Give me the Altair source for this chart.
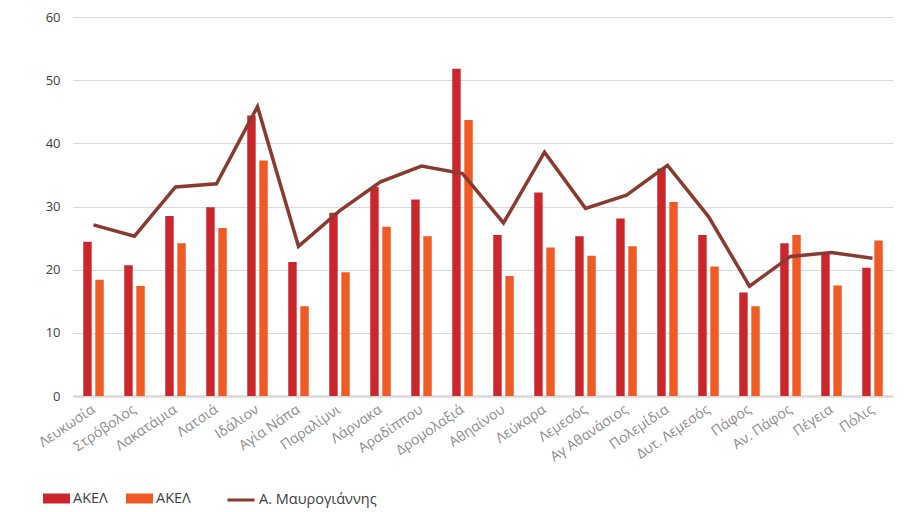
import altair as alt
import pandas as pd

categories = ["Λευκωσία", "Στρόβολος", "Λακατάμια", "Λατσιά", "Ιδάλιον", "Αγία Νάπα",
              "Παραλίμνι", "Λάρνακα", "Αραδίππου", "Δρομολαξιά", "Αθηαίνου", "Λεύκαρα",
              "Λεμεσός", "Αγ Αθανάσιος", "Πολεμίδια", "Δυτ. Λεμεσός", "Πάφος", "Αν. Πάφος",
              "Πέγεια", "Πόλις"]
akel_1 = [24.4, 20.7, 28.5, 29.9, 44.4, 21.2, 29.0, 33.1, 31.1, 51.8,
          25.5, 32.2, 25.3, 28.1, 36.0, 25.5, 16.4, 24.2, 22.6, 20.3]
akel_2 = [18.4, 17.4, 24.2, 26.6, 37.3, 14.2, 19.6, 26.8, 25.3, 43.7,
          19.0, 23.5, 22.2, 23.7, 30.7, 20.5, 14.2, 25.5, 17.5, 24.6]
mavrogiannis = [27.1, 25.3, 33.1, 33.6, 45.8, 23.7, 29.3, 33.9, 36.4, 35.2,
                27.4, 38.6, 29.7, 31.8, 36.5, 28.4, 17.4, 22.1, 22.7, 21.8]
bar_series = ["a", "b"]
bar_labels = ["ΑΚΕΛ", "ΑΚΕΛ"]
line_name = "Α. Μαυρογιάννης"
y_ticks = [0, 10, 20, 30, 40, 50, 60]

rows = []
for i, c in enumerate(categories):
    rows.append({"cat": c, "series": "a", "value": akel_1[i]})
    rows.append({"cat": c, "series": "b", "value": akel_2[i]})
bars_df = pd.DataFrame(rows)
line_df = pd.DataFrame({"cat": categories, "series": line_name, "value": mavrogiannis})

FONT = "Open Sans"
x_enc = alt.X("cat:N", sort=categories,
              scale=alt.Scale(paddingInner=0.5, paddingOuter=0.25),
              axis=alt.Axis(title=None, labelAngle=-34, labelAlign="right", labelBaseline="middle",
                            labelFontSize=14, labelColor="#8c8c8c", labelFont=FONT,
                            ticks=False, domainColor="#d9d9d9", domainWidth=2.5, labelPadding=12,
                            grid=False))
y_enc = alt.Y("value:Q", scale=alt.Scale(domain=[0, 60]),
              axis=alt.Axis(title=None, values=y_ticks, domain=False, ticks=False,
                            gridColor="#d9d9d9", gridWidth=1, labelFontSize=13,
                            labelColor="#404040", labelFont=FONT, labelPadding=13))

rect_path = "M-1,-0.37H1V0.37H-1Z"

bars = alt.Chart(bars_df).mark_bar().encode(
    x=x_enc,
    xOffset=alt.XOffset("series:N", scale=alt.Scale(domain=bar_series, paddingInner=0.3)),
    y=y_enc,
    color=alt.Color("series:N",
                    scale=alt.Scale(domain=bar_series, range=["#CC262D", "#F05A25"]),
                    legend=alt.Legend(title=None, orient="none", legendX=-30, legendY=468,
                                      direction="horizontal", labelExpr="'ΑΚΕΛ'",
                                      symbolType=rect_path, symbolSize=729, symbolStrokeWidth=0,
                                      labelFontSize=14.5, labelFont=FONT, labelColor="#404040",
                                      columnPadding=18, labelOffset=3)),
)

line = alt.Chart(line_df).mark_line(strokeWidth=3.5).encode(
    x=alt.X("cat:N", sort=categories),
    y=alt.Y("value:Q"),
    stroke=alt.Stroke("series:N",
                      scale=alt.Scale(domain=[line_name], range=["#8B3A2F"]),
                      legend=alt.Legend(title=None, orient="none", legendX=153, legendY=468,
                                        symbolType="stroke", symbolSize=729, symbolStrokeWidth=3,
                                        labelFontSize=14.5, labelFont=FONT, labelColor="#404040",
                                        labelOffset=3)),
)

chart = alt.layer(bars, line).properties(
    width=820, height=379,
    autosize=alt.AutoSizeParams(type="none"),
    padding={"left": 65, "top": 9, "right": 5, "bottom": 116},
).configure_view(stroke=None)

chart.save("out.html", embed_options={"renderer": "svg", "actions": False})
